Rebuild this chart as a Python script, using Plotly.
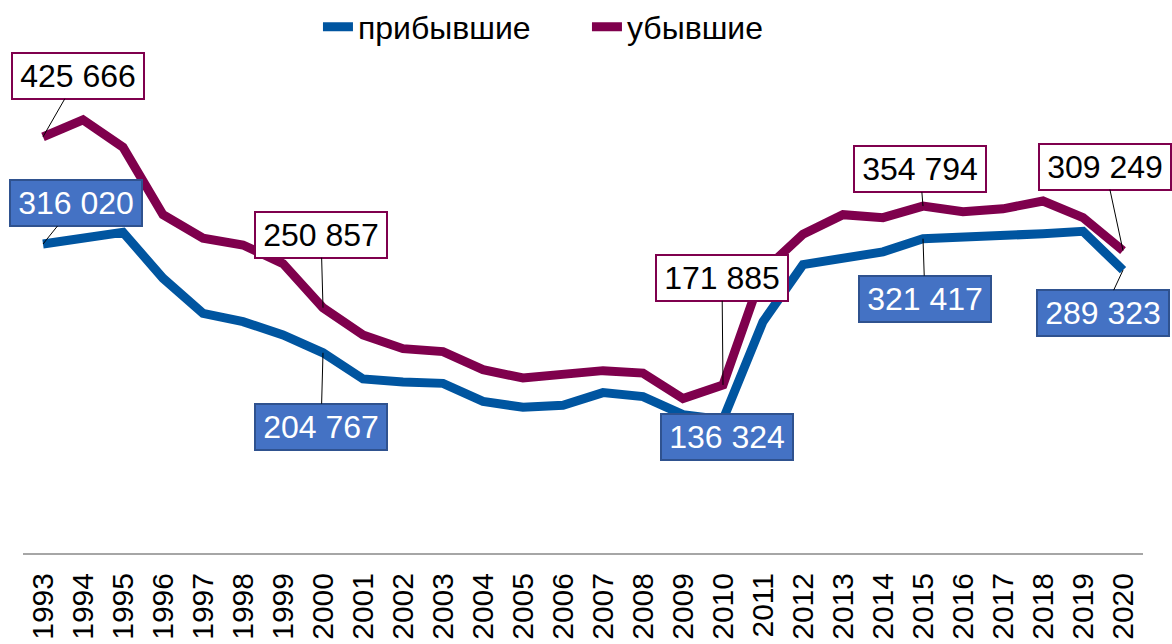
import plotly.graph_objects as go

years = list(range(1993, 2021))
arrived = [316020, 322000, 328000, 281000, 245000, 236600, 223000, 204767, 178000, 175000,
           173500, 155000, 149000, 151000, 164000, 160000, 141500, 136324, 236600, 295000,
           301000, 308000, 321417, 322400, 324000, 326500, 329000, 289323]
departed = [425666, 443000, 415000, 346000, 322000, 315000, 296000, 250857, 223000, 209000,
            206000, 187500, 179000, 183000, 186500, 184000, 158000, 171885, 288000, 326000,
            346000, 343000, 354794, 349000, 352000, 360000, 343000, 309249]
series_names = ["прибывшие", "убывшие"]
tick_labels = [str(y) for y in years]

BLUE = "#0055A0"
PURPLE = "#7F004D"
FONT = "Liberation Sans, Arial, sans-serif"

fig = go.Figure()
fig.add_trace(go.Scatter(x=years, y=arrived, mode="lines", name=series_names[0],
                         line=dict(color=BLUE, width=9)))
fig.add_trace(go.Scatter(x=years, y=departed, mode="lines", name=series_names[1],
                         line=dict(color=PURPLE, width=9)))

def fmt(v):
    return f"{v:,}".replace(",", " ")

# (year index, series, ax, ay)
labels = [
    (0, "d", 35, -61), (0, "a", 33, -41),
    (7, "d", -2, -73), (7, "a", -2, 74),
    (17, "d", -1, -107), (17, "a", 4, 17),
    (22, "d", -3, -37), (22, "a", 2, 60),
    (27, "d", -18, -84), (27, "a", -20, 43),
]
for i, s, ax, ay in labels:
    if s == "d":
        val = departed[i]
        style = dict(bgcolor="white", bordercolor=PURPLE, font=dict(color="black", size=32, family=FONT))
    else:
        val = arrived[i]
        style = dict(bgcolor="#4472C4", bordercolor="#2F528F", font=dict(color="white", size=32, family=FONT))
    fig.add_annotation(x=years[i], y=val, text=fmt(val), showarrow=True, arrowhead=0,
                       arrowwidth=1, arrowcolor="black", ax=ax, ay=ay,
                       borderwidth=2, borderpad=4, width=122, height=36, **style)

fig.update_layout(
    width=1172, height=644,
    margin=dict(l=23, r=29, t=113, b=91),
    paper_bgcolor="white", plot_bgcolor="white",
    font=dict(family=FONT, size=30, color="black"),
    showlegend=True,
    legend=dict(orientation="h", xref="container", yref="container",
                x=0.2713, xanchor="left", y=0.958, yanchor="middle",
                font=dict(size=32, family=FONT), tracegroupgap=0, entrywidth=224,
                entrywidthmode="pixels", bgcolor="rgba(0,0,0,0)"),
    xaxis=dict(type="linear", range=[1992.5, 2020.5], tickvals=years, ticktext=tick_labels,
               showgrid=False, showline=True, zeroline=False,
               linecolor="#A6A6A6", linewidth=2, ticks="", tickangle=-90, automargin=False,
               tickfont=dict(size=30, family=FONT, color="black"), ticklabelstandoff=6,
               fixedrange=True),
    yaxis=dict(range=[0, 450000], showgrid=False, showticklabels=False, zeroline=False,
               showline=False, ticks="", fixedrange=True, automargin=False),
)

fig.write_html("out.html", config={"displayModeBar": False},
               post_script="document.body.style.margin='0';")
